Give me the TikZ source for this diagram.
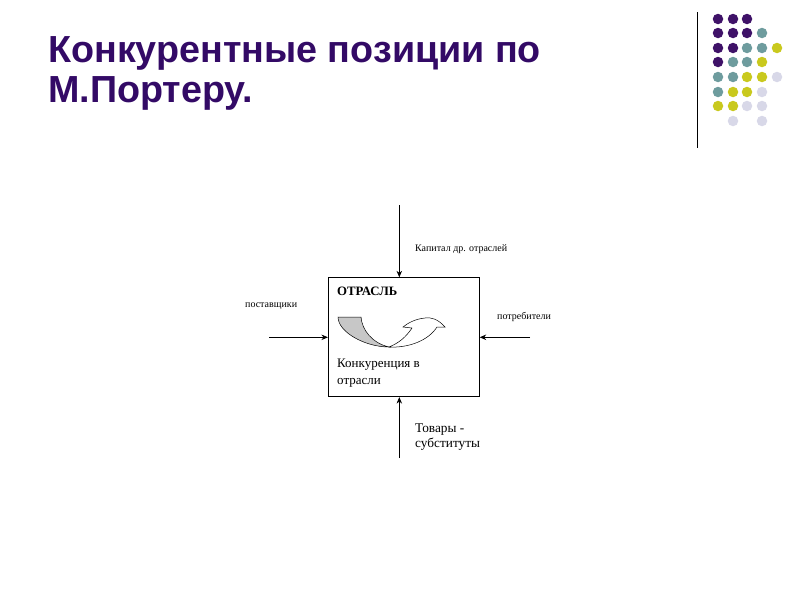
\documentclass[tikz,border=0pt]{standalone}
\usepackage{fontspec}
\setmainfont{Liberation Serif}
\newfontfamily\titlefont{Liberation Sans}
\usetikzlibrary{arrows.meta}
\definecolor{ttl}{HTML}{330A66}
\definecolor{dpurple}{HTML}{3F1268}
\definecolor{dteal}{HTML}{6E9C9E}
\definecolor{dyellow}{HTML}{C9C91E}
\definecolor{dlav}{HTML}{D8D8E8}
\tikzset{
  titletext/.style={anchor=base west, inner sep=0pt, font=\titlefont\bfseries\fontsize{37.7}{40}\selectfont, text=ttl},
  smalllabel/.style={anchor=west, inner sep=0pt, font=\fontsize{10}{12}\selectfont},
  biglabel/.style={anchor=north west, inner sep=0pt, align=left, font=\fontsize{13.3}{16}\selectfont},
  flow/.style={draw=black, line width=0.7pt, -{Stealth[length=6.5pt,width=5.5pt]}},
  dot/.style={circle, inner sep=0pt, minimum size=10.5pt, draw=none},
}
\begin{document}
\begin{tikzpicture}[x=1pt,y=-1pt]
\useasboundingbox (0,0) rectangle (800,600);
\fill[white] (0,0) rectangle (800,600);
% title
\node[titletext] (t1) at (48,62) {Конкурентные позиции по};
\node[titletext] (t2) at (48,102) {М.Портеру.};
% decorative line and dots
\draw[line width=1pt] (697,12) -- (697,148);
\foreach \c/\xx/\yy in {
 dpurple/718/19, dpurple/733/19, dpurple/747/19,
 dpurple/718/33, dpurple/733/33, dpurple/747/33, dteal/762/33,
 dpurple/718/48, dpurple/733/48, dteal/747/48, dteal/762/48, dyellow/777/48,
 dpurple/718/62, dteal/733/62, dteal/747/62, dyellow/762/62,
 dteal/718/77, dteal/733/77, dyellow/747/77, dyellow/762/77, dlav/777/77,
 dteal/718/92, dyellow/733/92, dyellow/747/92, dlav/762/92,
 dyellow/718/106, dyellow/733/106, dlav/747/106, dlav/762/106,
 dlav/733/121, dlav/762/121}
  \node[dot, fill=\c] at (\xx,\yy) {};
% main box
\node[draw, line width=0.8pt, minimum width=151pt, minimum height=119pt, inner sep=0pt] (otr) at (403.8,337.2) {};
\node[anchor=west, inner sep=0pt, font=\bfseries\fontsize{12.8}{14}\selectfont] (otrlab) at (337,291) {ОТРАСЛЬ};
\node[biglabel, font=\fontsize{13}{17}\selectfont] (konk) at (337,359) {Конкуренция в\\отрасли};
% curved arrow
\filldraw[fill=black!22, draw=black, line width=0.5pt]
  (338,317) -- (361,317) .. controls (362,330) and (372,343) .. (389,347)
  .. controls (365,347) and (338,332) .. (338,317) -- cycle;
\filldraw[fill=white, draw=black, line width=0.5pt]
  (389,347) .. controls (408,348) and (428,341) .. (437,327) -- (445,327)
  .. controls (438,319) and (431,317) .. (425,318)
  .. controls (415,319) and (408,323) .. (403,327) -- (412,328)
  .. controls (406,337) and (399,343) .. (389,347) -- cycle;
% arrows
\coordinate (topin) at (399.3,205);
\coordinate (botin) at (399.3,458);
\coordinate (leftin) at (269,337.3);
\coordinate (rightin) at (530,337.3);
\draw[flow] (topin) -- (otr.north -| topin);
\draw[flow] (botin) -- (otr.south -| botin);
\draw[flow] (leftin) -- (otr.west |- leftin);
\draw[flow] (rightin) -- (otr.east |- rightin);
% labels
\node[smalllabel] (kap) at (415,249) {Капитал др. отраслей};
\node[smalllabel] (post) at (245,306) {поставщики};
\node[smalllabel] (potr) at (497,317) {потребители};
\node[biglabel, font=\fontsize{13.3}{15}\selectfont] (tov) at (415,424) {Товары -\\субституты};
\end{tikzpicture}
\end{document}
